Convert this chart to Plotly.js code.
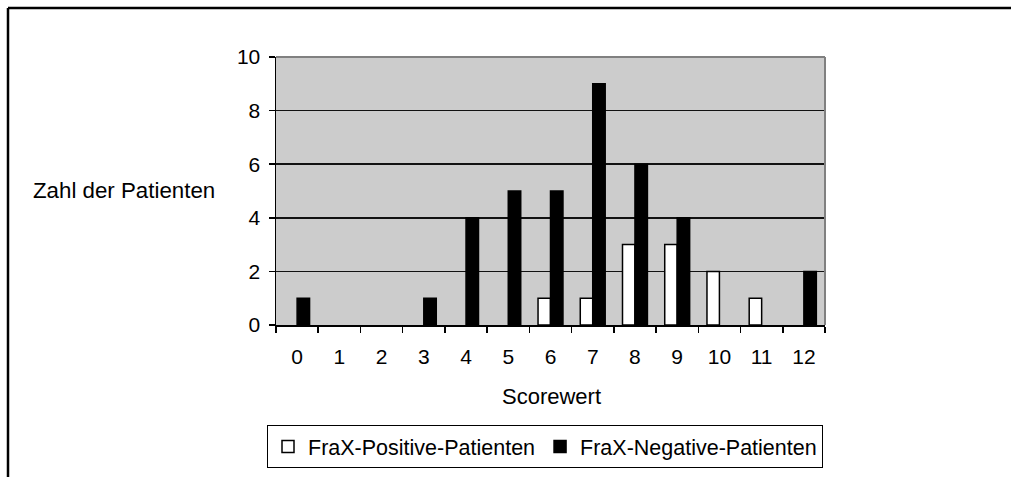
<!DOCTYPE html>
<html>
<head>
<meta charset="utf-8">
<script src="https://cdn.plot.ly/plotly-3.0.1.min.js"></script>
<style>html,body{margin:0;padding:0;background:#fff;}#chart{width:1011px;height:477px;}</style>
</head>
<body>
<div id="chart"></div>
<script>
var categories = ["0","1","2","3","4","5","6","7","8","9","10","11","12"];
var fraxPositive = [0,0,0,0,0,0,1,1,3,3,2,1,0];
var fraxNegative = [1,0,0,1,4,5,5,9,6,4,0,0,2];
var seriesNames = ["FraX-Positive-Patienten","FraX-Negative-Patienten"];
var yTicks = [0,2,4,6,8,10];

var W = 1011, H = 477;
var L = 276, R = 825, T = 57, B = 325;
function px(x){ return (x - L) / (R - L); }
function py(y){ return (B - y) / (B - T); }

var font = "'Liberation Sans', Arial, sans-serif";
// zero counts are not drawn as bars (no outline at the baseline)
function hideZeros(vals){ return vals.map(function(v){ return v > 0 ? v : null; }); }

var traces = [
  {type:"bar", name:seriesNames[0], x:categories, y:hideZeros(fraxPositive),
   marker:{color:"#ffffff", line:{color:"#000000", width:1.5}}},
  {type:"bar", name:seriesNames[1], x:categories, y:hideZeros(fraxNegative),
   marker:{color:"#000000", line:{color:"#000000", width:1.5}}}
];

var layout = {
  width: W, height: H,
  margin: {l: L, r: W - R, t: T, b: H - B, pad: 0, autoexpand: false},
  paper_bgcolor: "#ffffff",
  plot_bgcolor: "#cccccc",
  barmode: "group",
  bargap: 0.41,
  bargroupgap: 0,
  font: {family: font, color: "#000000", size: 21},
  showlegend: true,
  legend: {orientation: "h", x: px(267), xanchor: "left", y: py(425), yanchor: "top",
           bgcolor: "#ffffff", bordercolor: "#000000", borderwidth: 1,
           font: {size: 21.5, family: font}, traceorder: "normal"},
  xaxis: {type: "category", tickson: "boundaries", ticks: "outside", ticklen: 6,
          tickcolor: "#000000", tickwidth: 1.5, showgrid: false, showline: true,
          linecolor: "#000000", linewidth: 1.5, tickfont: {size: 21}, zeroline: false,
          ticklabelstandoff: 12, fixedrange: true},
  yaxis: {range: [0, 10], tickvals: yTicks, ticktext: yTicks.map(String), ticks: "outside",
          ticklen: 6, tickcolor: "#000000", tickwidth: 1.5, showgrid: true,
          gridcolor: "#111111", gridwidth: 1.5, showline: true, linecolor: "#000000",
          linewidth: 1.5, zeroline: false, tickfont: {size: 21}, ticklabelstandoff: 4,
          fixedrange: true},
  annotations: [
    {text: "Zahl der Patienten", xref: "paper", yref: "paper", x: px(31), y: py(190),
     xanchor: "left", yanchor: "middle", showarrow: false, font: {size: 22.3}},
    {text: "Scorewert", xref: "paper", yref: "paper", x: px(551), y: py(396),
     xanchor: "center", yanchor: "middle", showarrow: false, font: {size: 22}}
  ],
  shapes: [
    {type: "line", xref: "paper", yref: "paper", x0: 0, x1: 1, y0: 1, y1: 1,
     line: {color: "#808080", width: 2}},
    {type: "line", xref: "paper", yref: "paper", x0: 1, x1: 1, y0: 0, y1: 1,
     line: {color: "#808080", width: 2}},
    {type: "line", xref: "paper", yref: "paper", x0: px(8), x1: px(1012), y0: py(8), y1: py(8),
     line: {color: "#000000", width: 2.5}},
    {type: "line", xref: "paper", yref: "paper", x0: px(8), x1: px(8), y0: py(8), y1: py(480),
     line: {color: "#000000", width: 2.5}}
  ]
};

Plotly.newPlot("chart", traces, layout, {displayModeBar: false, staticPlot: true});
</script>
</body>
</html>
